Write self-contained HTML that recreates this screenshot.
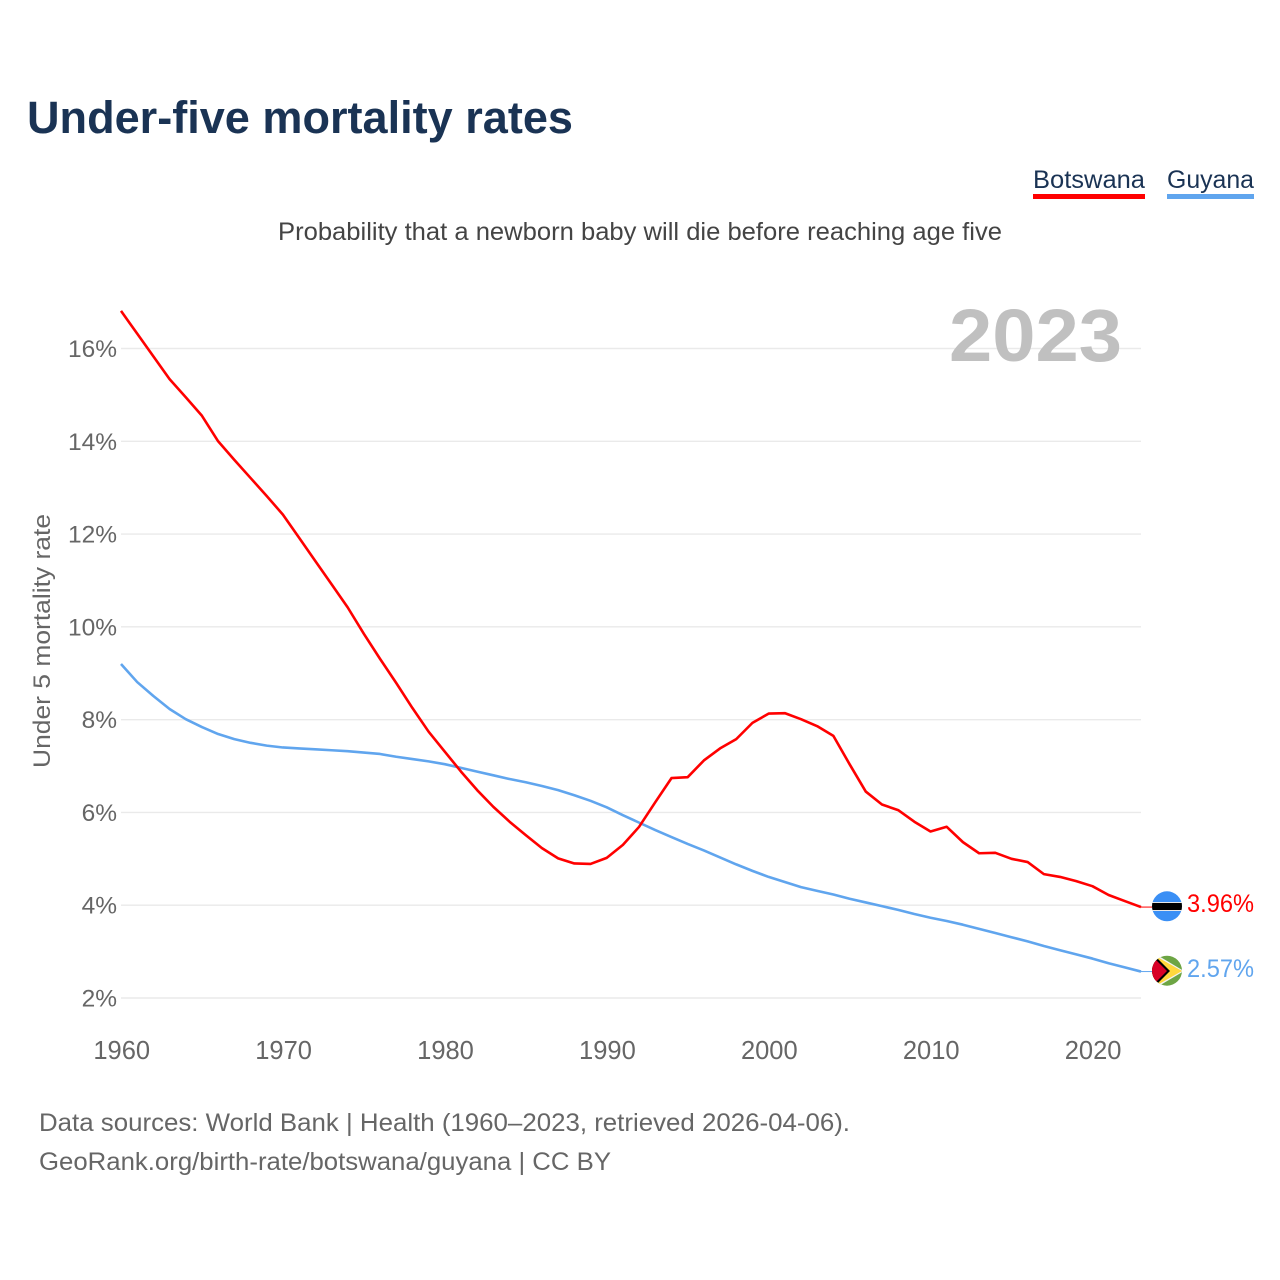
<!DOCTYPE html>
<html lang="en">
<head>
<meta charset="utf-8">
<title>Under-five mortality rates</title>
<style>
html,body{margin:0;padding:0;background:#fff;width:1280px;height:1280px;overflow:hidden}
svg{display:block}
text{font-family:"Liberation Sans",Arial,sans-serif}
</style>
</head>
<body>
<svg id="chart" xmlns="http://www.w3.org/2000/svg" width="1280" height="1280" viewBox="0 0 1280 1280">
  <defs>
    <clipPath id="flag-clip-a"><circle cx="1167" cy="906.3" r="15"/></clipPath>
    <clipPath id="flag-clip-b"><circle cx="1167" cy="970.7" r="15"/></clipPath>
  </defs>
  <rect width="1280" height="1280" fill="#fff"/>
  <text x="27" y="133" font-size="45" font-weight="700" fill="#1a3354" textLength="546" lengthAdjust="spacingAndGlyphs">Under-five mortality rates</text>

  <g>
    <text x="1033" y="188" font-size="25" fill="#1a3354" textLength="112" lengthAdjust="spacingAndGlyphs">Botswana</text>
    <rect x="1033" y="194" width="112" height="5" fill="#ff0000"/>
  </g>
  <g>
    <text x="1167" y="188" font-size="25" fill="#1a3354" textLength="87" lengthAdjust="spacingAndGlyphs">Guyana</text>
    <rect x="1167" y="194" width="87" height="5" fill="#60a5ee"/>
  </g>

  <text x="278" y="240" font-size="25" fill="#444" textLength="724" lengthAdjust="spacingAndGlyphs">Probability that a newborn baby will die before reaching age five</text>

  <g id="grid"></g>
  <text x="949" y="361" font-size="74" font-weight="700" fill="#c0c0c0" textLength="173" lengthAdjust="spacingAndGlyphs">2023</text>
  <g id="y-ticks"></g>
  <g id="x-ticks"></g>
  <text transform="translate(50 641) rotate(-90)" text-anchor="middle" font-size="24" fill="#666" textLength="254" lengthAdjust="spacingAndGlyphs">Under 5 mortality rate</text>

  <g id="series"></g>

  <g clip-path="url(#flag-clip-a)">
    <rect x="1152" y="891" width="30" height="31" fill="#3a8ff5"/>
    <rect x="1152" y="902" width="30" height="9" fill="#e8e8e8"/>
    <rect x="1152" y="903" width="30" height="7" fill="#000"/>
  </g>
  <g clip-path="url(#flag-clip-b)">
    <rect x="1152" y="955" width="30" height="31" fill="#6da544"/>
    <path d="M1152 952 L1184 971 L1152 990 Z" fill="#f2f2f2"/>
    <path d="M1152 954 L1182 971 L1152 988 Z" fill="#ffd83d"/>
    <path d="M1152 953 L1170 971 L1152 989 Z" fill="#000"/>
    <path d="M1152 956 L1167 971 L1152 986 Z" fill="#d80027"/>
  </g>

  <text id="value-label-botswana" x="1187" y="912" font-size="25" fill="#ff0000" textLength="67" lengthAdjust="spacingAndGlyphs">3.96%</text>
  <text id="value-label-guyana" x="1187" y="977" font-size="25" fill="#60a5ee" textLength="67" lengthAdjust="spacingAndGlyphs">2.57%</text>

  <text x="39" y="1131" font-size="25" fill="#666" textLength="811" lengthAdjust="spacingAndGlyphs">Data sources: World Bank | Health (1960–2023, retrieved 2026-04-06).</text>
  <text x="39" y="1170" font-size="25" fill="#666" textLength="572" lengthAdjust="spacingAndGlyphs">GeoRank.org/birth-rate/botswana/guyana | CC BY</text>
</svg>
<script>
const startYear = 1960;
const endYear = 2023;
const botswanaValues = [16.81,16.32,15.83,15.34,14.95,14.55,14.0,13.6,13.21,12.82,12.42,11.92,11.42,10.92,10.42,9.85,9.31,8.79,8.25,7.74,7.31,6.88,6.48,6.12,5.80,5.51,5.23,5.01,4.90,4.89,5.02,5.30,5.69,6.22,6.74,6.76,7.12,7.38,7.58,7.93,8.13,8.14,8.01,7.86,7.65,7.04,6.45,6.17,6.05,5.80,5.59,5.69,5.36,5.12,5.13,5.00,4.93,4.67,4.61,4.52,4.41,4.22,4.09,3.96];
const guyanaValues = [9.20,8.81,8.51,8.23,8.01,7.84,7.69,7.58,7.50,7.44,7.40,7.38,7.36,7.34,7.32,7.29,7.26,7.20,7.15,7.10,7.04,6.96,6.88,6.80,6.72,6.65,6.57,6.48,6.37,6.25,6.11,5.94,5.78,5.62,5.47,5.32,5.18,5.03,4.88,4.74,4.61,4.50,4.39,4.31,4.23,4.14,4.06,3.98,3.90,3.81,3.73,3.66,3.58,3.49,3.40,3.31,3.22,3.12,3.03,2.94,2.85,2.75,2.66,2.57];
const yTickValues = [2,4,6,8,10,12,14,16];
const xTickValues = [1960,1970,1980,1990,2000,2010,2020];

const NS = 'http://www.w3.org/2000/svg';
function xScale(year){ return 121 + (year - startYear) * (1141 - 121) / (endYear - startYear); }
function yScale(value){ return 998 - (value - 2) * (998 - 348.5) / 14; }

const gridGroup = document.getElementById('grid');
const yTickGroup = document.getElementById('y-ticks');
const xTickGroup = document.getElementById('x-ticks');
const seriesGroup = document.getElementById('series');

yTickValues.forEach(function(v){
  const line = document.createElementNS(NS, 'line');
  
  
  line.setAttribute('x1', 121);
  line.setAttribute('x2', 1141);
  line.setAttribute('y1', yScale(v));
  line.setAttribute('y2', yScale(v));
  line.setAttribute('stroke', '#eaeaea');
  line.setAttribute('stroke-width', '1.4');
  gridGroup.appendChild(line);

  const label = document.createElementNS(NS, 'text');
  
  
  label.setAttribute('x', 117);
  label.setAttribute('y', yScale(v) + 8.5);
  label.setAttribute('text-anchor', 'end');
  label.setAttribute('font-size', '24.5');
  label.setAttribute('fill', '#666');
  label.textContent = v + '%';
  yTickGroup.appendChild(label);
});

xTickValues.forEach(function(y){
  const label = document.createElementNS(NS, 'text');
  
  
  label.setAttribute('x', xScale(y) + 0.7);
  label.setAttribute('y', 1059);
  label.setAttribute('text-anchor', 'middle');
  label.setAttribute('font-size', '25.5');
  label.setAttribute('fill', '#666');
  label.textContent = String(y);
  xTickGroup.appendChild(label);
});

function linePath(values){
  return values.map(function(v, i){
    return (i ? 'L' : 'M') + xScale(startYear + i).toFixed(2) + ' ' + yScale(v).toFixed(2);
  }).join(' ');
}

const guyanaPath = document.createElementNS(NS, 'path');


guyanaPath.setAttribute('d', linePath(guyanaValues));
guyanaPath.setAttribute('fill', 'none');
guyanaPath.setAttribute('stroke', '#60a5ee');
guyanaPath.setAttribute('stroke-width', '2.6');
guyanaPath.setAttribute('stroke-linejoin', 'round');
seriesGroup.appendChild(guyanaPath);

const botswanaPath = document.createElementNS(NS, 'path');


botswanaPath.setAttribute('d', linePath(botswanaValues));
botswanaPath.setAttribute('fill', 'none');
botswanaPath.setAttribute('stroke', '#ff0000');
botswanaPath.setAttribute('stroke-width', '2.6');
botswanaPath.setAttribute('stroke-linejoin', 'round');
seriesGroup.appendChild(botswanaPath);

const botswanaConnector = document.createElementNS(NS, 'line');


botswanaConnector.setAttribute('x1', xScale(endYear));
botswanaConnector.setAttribute('x2', 1152);
botswanaConnector.setAttribute('y1', yScale(botswanaValues[botswanaValues.length - 1]));
botswanaConnector.setAttribute('y2', yScale(botswanaValues[botswanaValues.length - 1]));
botswanaConnector.setAttribute('stroke', '#ff0000');
botswanaConnector.setAttribute('stroke-width', '1');
seriesGroup.appendChild(botswanaConnector);

const guyanaConnector = document.createElementNS(NS, 'line');


guyanaConnector.setAttribute('x1', xScale(endYear));
guyanaConnector.setAttribute('x2', 1152);
guyanaConnector.setAttribute('y1', yScale(guyanaValues[guyanaValues.length - 1]));
guyanaConnector.setAttribute('y2', yScale(guyanaValues[guyanaValues.length - 1]));
guyanaConnector.setAttribute('stroke', '#60a5ee');
guyanaConnector.setAttribute('stroke-width', '1');
seriesGroup.appendChild(guyanaConnector);
</script>
</body>
</html>
